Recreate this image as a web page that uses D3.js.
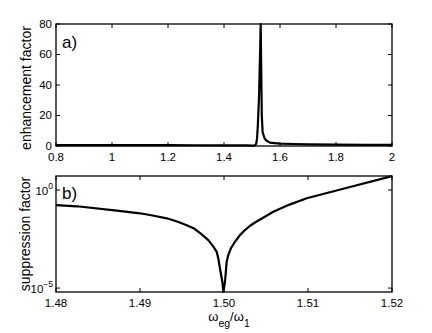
<!DOCTYPE html>
<html><head><meta charset="utf-8">
<script src="https://cdn.jsdelivr.net/npm/d3@7"></script>
<style>
html,body{margin:0;padding:0;background:#fff;}
svg{display:block;}
text{font-family:"Liberation Sans",Arial,Helvetica,sans-serif;fill:#000;}
</style></head>
<body>
<script>
// Panel a) enhancement factor
const enhX = [0.8, 0.9, 1.0, 1.1, 1.2, 1.3, 1.4, 1.45, 1.48, 1.5, 1.51, 1.515, 1.518, 1.521, 1.525, 1.529, 1.531, 1.533, 1.535, 1.538, 1.545, 1.55, 1.564, 1.58, 1.6, 1.65, 1.7, 1.8, 1.9, 2.0];
const enhY = [0.6, 0.6, 0.6, 0.6, 0.55, 0.5, 0.45, 0.4, 0.35, 0.3, 0.4, 1.5, 5, 14, 32, 62, 80, 50, 20, 9, 5, 3.8, 2.2, 1.9, 1.6, 1.3, 1.1, 0.9, 0.8, 0.7];
const enhXTicks = [0.8, 1.0, 1.2, 1.4, 1.6, 1.8, 2.0];
const enhXTickLabels = ["0.8", "1", "1.2", "1.4", "1.6", "1.8", "2"];
const enhYTicks = [0, 20, 40, 60, 80];

// Panel b) suppression factor
const supX = [1.48, 1.4825, 1.4875, 1.49, 1.4915, 1.49318, 1.4945, 1.49556, 1.4965, 1.49735, 1.49813, 1.49873, 1.49913, 1.49932, 1.49952, 1.4998, 1.49992,
              1.50012, 1.50032, 1.50051, 1.50083, 1.50131, 1.5019, 1.5025, 1.5031, 1.50369, 1.5045, 1.50587, 1.5078, 1.50985, 1.5142, 1.52];
const supY = [0.17, 0.148, 0.087, 0.065, 0.05, 0.036, 0.024, 0.016, 0.0105, 0.0055, 0.0028, 0.0013, 0.0007, 0.00033, 0.0001, 0.000021, 0.0000063,
              0.000021, 0.00022, 0.00048, 0.0011, 0.0023, 0.005, 0.0091, 0.015, 0.022, 0.035, 0.078, 0.18, 0.38, 1.16, 5.1];
const supXTicks = [1.48, 1.49, 1.50, 1.51, 1.52];
const supXTickLabels = ["1.48", "1.49", "1.50", "1.51", "1.52"];
const supYTicks = [1e-5, 1];
const supYTickExp = ["\u22125", "0"];

const W = 432, H = 333;
const svg = d3.select("body").append("svg").attr("width", W).attr("height", H);

const L = 56, R = 392;
const TK = 4;

function frame(g, x, y) {
  const [x0, x1] = x.range(); const [y0, y1] = y.range();
  g.append("rect").attr("x", x0).attr("y", y1).attr("width", x1 - x0).attr("height", y0 - y1)
    .attr("fill", "none").attr("stroke", "#000").attr("stroke-width", 1.3);
}

// ---- Panel a
{
  const x = d3.scaleLinear().domain([0.8, 2.0]).range([L, R]);
  const y = d3.scaleLinear().domain([0, 80]).range([146, 24]);
  const g = svg.append("g");
  const tickStyle = sel => sel.attr("stroke", "#000").attr("stroke-width", 1);
  enhXTicks.forEach((t, i) => {
    g.append("line").attr("x1", x(t)).attr("x2", x(t)).attr("y1", 146).attr("y2", 146 - TK).call(tickStyle);
    g.append("line").attr("x1", x(t)).attr("x2", x(t)).attr("y1", 24).attr("y2", 24 + TK).call(tickStyle);
    g.append("text").attr("x", x(t)).attr("y", 161).attr("text-anchor", "middle").attr("font-size", 11.5).text(enhXTickLabels[i]);
  });
  enhYTicks.forEach(t => {
    g.append("line").attr("x1", L).attr("x2", L + TK).attr("y1", y(t)).attr("y2", y(t)).call(tickStyle);
    g.append("line").attr("x1", R).attr("x2", R - TK).attr("y1", y(t)).attr("y2", y(t)).call(tickStyle);
    g.append("text").attr("x", L - 4).attr("y", y(t) + 3.5).attr("text-anchor", "end").attr("font-size", 11.5).text(t);
  });
  const line = d3.line().x((d, i) => x(enhX[i])).y(d => y(d));
  g.append("path").datum(enhY).attr("d", line).attr("fill", "none").attr("stroke", "#000")
    .attr("stroke-width", 2.2).attr("stroke-linejoin", "round");
  frame(g, x, y);
  g.append("text").attr("x", 62).attr("y", 48).attr("font-size", 17).text("a)");
  g.append("text").attr("transform", "translate(31,88) rotate(-90)").attr("text-anchor", "middle")
    .attr("font-size", 14).text("enhancement factor");
}

// ---- Panel b
{
  const x = d3.scaleLinear().domain([1.48, 1.52]).range([L, R]);
  const y = d3.scaleLog().domain([Math.pow(10, -5.2), Math.pow(10, 0.714)]).range([292, 176]);
  const g = svg.append("g");
  const tickStyle = sel => sel.attr("stroke", "#000").attr("stroke-width", 1);
  supXTicks.forEach((t, i) => {
    g.append("line").attr("x1", x(t)).attr("x2", x(t)).attr("y1", 292).attr("y2", 292 - TK).call(tickStyle);
    g.append("line").attr("x1", x(t)).attr("x2", x(t)).attr("y1", 176).attr("y2", 176 + TK).call(tickStyle);
    g.append("text").attr("x", x(t)).attr("y", 307).attr("text-anchor", "middle").attr("font-size", 11.5).text(supXTickLabels[i]);
  });
  supYTicks.forEach((t, i) => {
    g.append("line").attr("x1", L).attr("x2", L + TK).attr("y1", y(t)).attr("y2", y(t)).call(tickStyle);
    g.append("line").attr("x1", R).attr("x2", R - TK).attr("y1", y(t)).attr("y2", y(t)).call(tickStyle);
    const tx = g.append("text").attr("x", L - 3).attr("y", y(t) + 5).attr("text-anchor", "end").attr("font-size", 11.5);
    tx.append("tspan").text("10");
    tx.append("tspan").attr("dy", -6).attr("font-size", 8.5).text(supYTickExp[i]);
  });
  const line = d3.line().x((d, i) => x(supX[i])).y(d => y(d));
  g.append("path").datum(supY).attr("d", line).attr("fill", "none").attr("stroke", "#000")
    .attr("stroke-width", 2.2).attr("stroke-linejoin", "round");
  frame(g, x, y);
  g.append("text").attr("x", 62).attr("y", 199).attr("font-size", 17).text("b)");
  g.append("text").attr("transform", "translate(30,234) rotate(-90)").attr("text-anchor", "middle")
    .attr("font-size", 14).text("suppression factor");
  const xl = g.append("text").attr("x", 229).attr("y", 321).attr("text-anchor", "middle").attr("font-size", 13);
  xl.append("tspan").text("\u03c9");
  xl.append("tspan").attr("dy", 6).attr("font-size", 10.5).text("eg");
  xl.append("tspan").attr("dy", -6).text("/\u03c9");
  xl.append("tspan").attr("dy", 6).attr("font-size", 10.5).text("1");
}
</script>
</body></html>
